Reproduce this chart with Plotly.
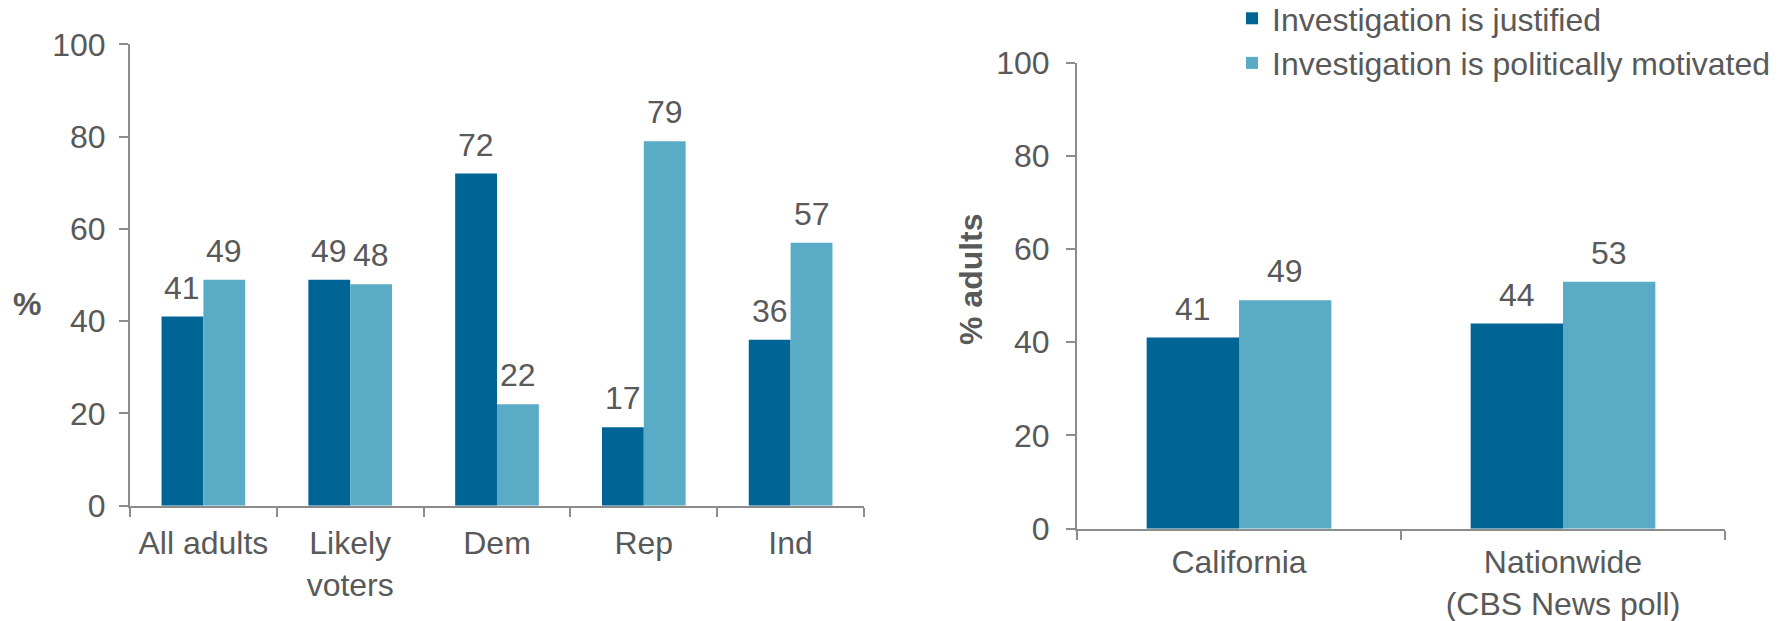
import plotly.graph_objects as go

# ---- data ----
left_categories = ["All adults", "Likely<br>voters", "Dem", "Rep", "Ind"]
left_justified = [41, 49, 72, 17, 36]
left_motivated = [49, 48, 22, 79, 57]

right_categories = ["California", "Nationwide<br>(CBS News poll)"]
right_justified = [41, 44]
right_motivated = [49, 53]

series_names = ["Investigation is justified", "Investigation is politically motivated"]
y_ticks = [0, 20, 40, 60, 80, 100]

DARK = "#006595"
LIGHT = "#5AACC6"
TEXT = "#595959"
AXIS = "#8C8C8C"
FONT = "Liberation Sans, Arial, sans-serif"
FS = 32

W, H = 1785, 621
BARGAP = 0.43

L_X0, L_X1 = 130, 864
R_X0, R_X1 = 1077, 1725

fig = go.Figure()

def add_pair(cats, just, mot, xa, ya, show):
    fig.add_trace(go.Bar(x=cats, y=just, name=series_names[0], marker_color=DARK,
                         marker_line_width=0, xaxis=xa, yaxis=ya,
                         showlegend=show, legendgroup="j"))
    fig.add_trace(go.Bar(x=cats, y=mot, name=series_names[1], marker_color=LIGHT,
                         marker_line_width=0, xaxis=xa, yaxis=ya,
                         showlegend=show, legendgroup="m"))

add_pair(left_categories, left_justified, left_motivated, "x", "y", True)
add_pair(right_categories, right_justified, right_motivated, "x2", "y2", False)

def px_x(p):
    return p / W

def px_y(p):
    return 1 - p / H

# value labels placed above each bar via the axes (data coordinates)
annotations = []
def add_labels(cats, just, mot, xref, yref, span_px):
    bar_w = span_px / len(cats) * (1 - BARGAP) / 2
    for vals, sh in ((just, -bar_w / 2), (mot, bar_w / 2)):
        for c, v in zip(cats, vals):
            annotations.append(dict(x=c, y=v, xref=xref, yref=yref, text=str(v),
                                    showarrow=False, xanchor="center", yanchor="bottom",
                                    xshift=sh, yshift=9,
                                    font=dict(size=FS, color=TEXT, family=FONT)))

add_labels(left_categories, left_justified, left_motivated, "x", "y", L_X1 - L_X0)
add_labels(right_categories, right_justified, right_motivated, "x2", "y2", R_X1 - R_X0)

annotations += [
    dict(text="<b>%</b>", x=px_x(27), y=px_y(304), xref="paper", yref="paper",
         xanchor="center", yanchor="middle",
         showarrow=False, font=dict(size=FS, color=TEXT, family=FONT)),
    dict(text="<b>% adults</b>", x=px_x(971), y=px_y(279), xref="paper", yref="paper",
         xanchor="center", yanchor="middle",
         showarrow=False, textangle=-90, font=dict(size=FS, color=TEXT, family=FONT)),
]

xcommon = dict(type="category", showline=True, linecolor=AXIS, linewidth=2,
               ticks="outside", ticklen=9, tickcolor=AXIS, tickwidth=2,
               tickson="boundaries", showgrid=False, zeroline=False, automargin=False,
               tickfont=dict(size=FS, color=TEXT, family=FONT), fixedrange=True)
ycommon = dict(range=[0, 100], tickvals=y_ticks, showline=True, linecolor=AXIS, linewidth=2,
               ticks="outside", ticklen=9, tickcolor=AXIS, tickwidth=2, automargin=False,
               showgrid=False, zeroline=False,
               tickfont=dict(size=FS, color=TEXT, family=FONT), fixedrange=True)

fig.update_layout(
    width=W, height=H,
    margin=dict(l=0, r=0, t=0, b=0, autoexpand=False),
    paper_bgcolor="white", plot_bgcolor="rgba(0,0,0,0)",
    barmode="group", bargap=BARGAP, bargroupgap=0,
    font=dict(family=FONT, color=TEXT, size=FS),
    xaxis=dict(domain=[px_x(L_X0), px_x(L_X1)], anchor="y", ticklabelstandoff=8, **xcommon),
    yaxis=dict(domain=[px_y(505.7), px_y(44.4)], anchor="x", ticklabelstandoff=7, **ycommon),
    xaxis2=dict(domain=[px_x(R_X0), px_x(R_X1)], anchor="y2", ticklabelstandoff=4, **xcommon),
    yaxis2=dict(domain=[px_y(528.7), px_y(62.6)], anchor="x2", ticklabelstandoff=10, **ycommon),
    legend=dict(x=px_x(1232), y=px_y(-9), xanchor="left", yanchor="top",
                font=dict(size=FS, color=TEXT, family=FONT), bgcolor="rgba(0,0,0,0)",
                itemwidth=30, tracegroupgap=0),
    annotations=annotations,
)

fig.write_html("out.html", config={"displayModeBar": False},
               post_script="document.body.style.margin='0px';")
